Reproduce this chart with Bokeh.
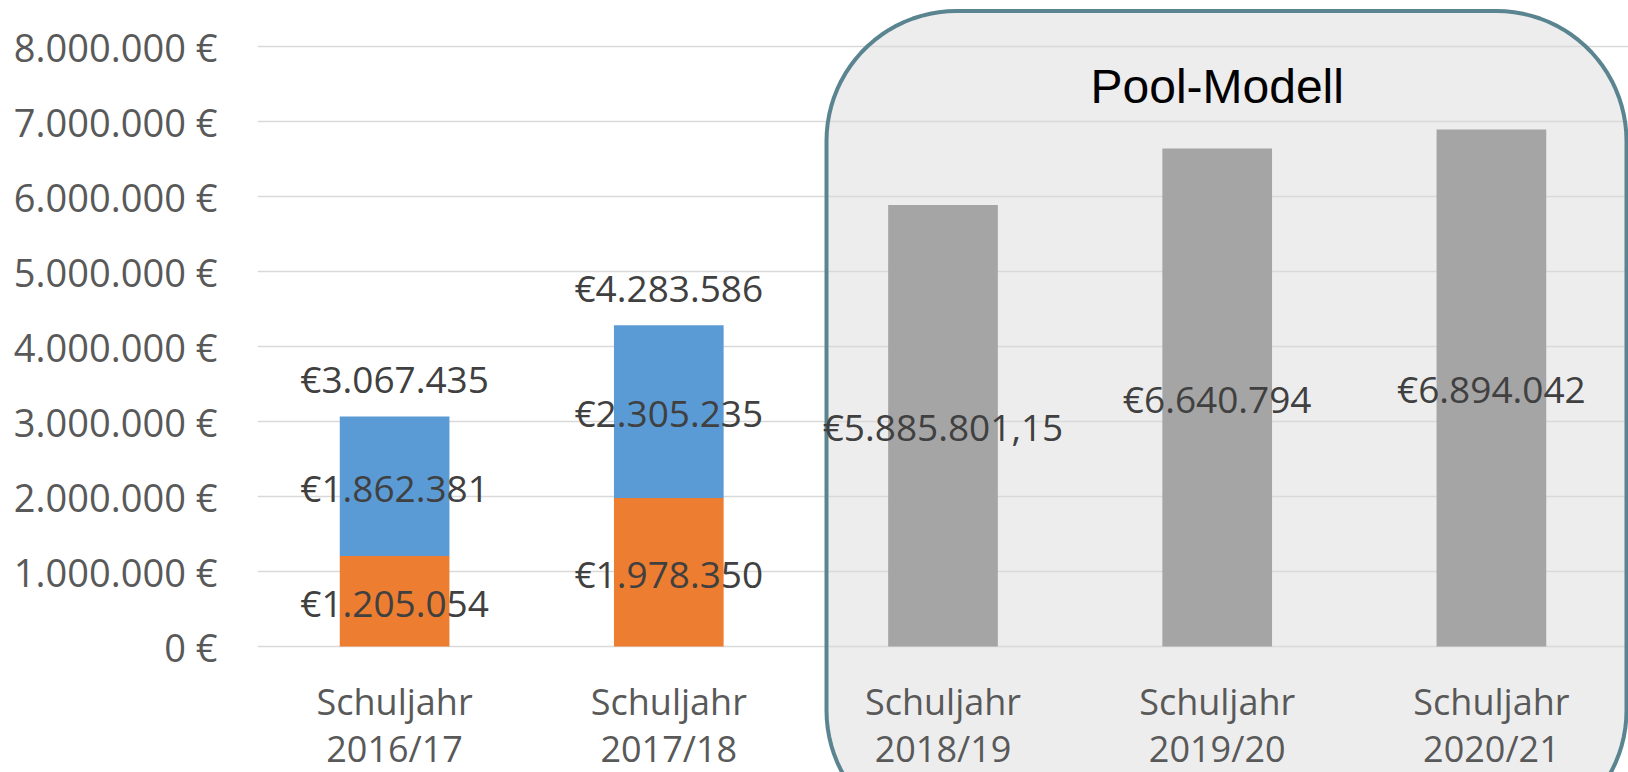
import numpy as np
from bokeh.plotting import figure
from bokeh.models import (ColumnDataSource, FactorRange, Range1d, FixedTicker,
                          LabelSet)
from bokeh.core.properties import value
from bokeh.embed import file_html
from bokeh.resources import INLINE

# ---------------- data ----------------
categories = ["Schuljahr 2016/17", "Schuljahr 2017/18", "Schuljahr 2018/19",
              "Schuljahr 2019/20", "Schuljahr 2020/21"]
stacked_categories = categories[:2]
pool_categories = categories[2:]

orange_values = [1205054, 1978350]
blue_values = [1862381, 2305235]
total_values = [3067435, 4283586]
pool_values = [5885801.15, 6640794, 6894042]

y_ticks = [0, 1000000, 2000000, 3000000, 4000000, 5000000, 6000000, 7000000, 8000000]
box_title = "Pool-Modell"


def de_number(v):
    if float(v) != int(v):
        s = f"{v:,.2f}"
    else:
        s = f"{int(v):,}"
    return s.replace(",", "#").replace(".", ",").replace("#", ".")


def euro_label(v):
    return "€" + de_number(v)


# ---------------- layout constants (pixels) ----------------
W, H = 1628, 772
FRAME_LEFT = 257
ZERO_Y = 646            # screen y of value 0
PX_PER_MIO = 75         # pixels per 1.000.000 €
CAT_W = (W - FRAME_LEFT) / len(categories)

y_start = -(H - ZERO_Y) / PX_PER_MIO * 1e6
y_end = ZERO_Y / PX_PER_MIO * 1e6

p = figure(x_range=FactorRange(*categories, range_padding=0, factor_padding=0),
           y_range=Range1d(y_start, y_end),
           width=W, height=H,
           min_border_left=FRAME_LEFT, min_border_right=0,
           min_border_top=0, min_border_bottom=0,
           x_axis_location=None,
           output_backend="svg", toolbar_location=None)
p.outline_line_color = None
p.background_fill_color = "white"
p.border_fill_color = "white"

p.xgrid.visible = False
p.ygrid.ticker = FixedTicker(ticks=y_ticks)
p.ygrid.grid_line_color = "#D9D9D9"
p.ygrid.grid_line_width = 1.5

yax = p.yaxis[0]
yax.ticker = FixedTicker(ticks=y_ticks)
yax.major_label_overrides = {t: de_number(t) + " €" for t in y_ticks}
yax.axis_line_color = None
yax.major_tick_line_color = None
yax.minor_tick_line_color = None
yax.major_tick_in = 0
yax.major_tick_out = 0
yax.major_label_standoff = 40
yax.major_label_text_font = "Open Sans"
yax.major_label_text_font_size = "38px"
yax.major_label_text_color = "#595959"


# ---------------- rounded "Pool-Modell" box ----------------
def sx_to_data(px):
    return (px - FRAME_LEFT) / CAT_W


def sy_to_data(py):
    return (ZERO_Y - py) / PX_PER_MIO * 1e6


def rounded_rect(left, right, top, bottom, r, n=24):
    pts = []
    corners = [((right - r, top + r), -90, 0),      # top-right
               ((right - r, bottom - r), 0, 90),    # bottom-right
               ((left + r, bottom - r), 90, 180),   # bottom-left
               ((left + r, top + r), 180, 270)]     # top-left
    for (cx, cy), a0, a1 in corners:
        for a in np.linspace(np.radians(a0), np.radians(a1), n):
            pts.append((cx + r * np.cos(a), cy + r * np.sin(a)))
    xs = [sx_to_data(x) for x, _ in pts]
    ys = [sy_to_data(y) for _, y in pts]
    return xs, ys


bx, by = rounded_rect(826, 1626, 10.5, 840, 130)
p.patch(bx, by, fill_color="#EDEDED", line_color=None, level="image")
p.patch(bx, by, fill_alpha=0, line_color="#5A8590", line_width=4, level="glyph")

# ---------------- bars ----------------
stack_src = ColumnDataSource(dict(
    x=stacked_categories,
    orange=orange_values,
    blue_top=[o + b for o, b in zip(orange_values, blue_values)],
))
p.vbar(x="x", bottom=0, top="orange", width=0.4, source=stack_src,
       fill_color="#ED7D31", line_color=None)
p.vbar(x="x", bottom="orange", top="blue_top", width=0.4, source=stack_src,
       fill_color="#5B9BD5", line_color=None)

pool_src = ColumnDataSource(dict(x=pool_categories, top=pool_values))
p.vbar(x="x", bottom=0, top="top", width=0.4, source=pool_src,
       fill_color="#A5A5A5", line_color=None)

# ---------------- data labels ----------------
center_src = ColumnDataSource(dict(
    x=stacked_categories + stacked_categories + pool_categories,
    y=[o / 2 for o in orange_values]
      + [o + b / 2 for o, b in zip(orange_values, blue_values)]
      + [v / 2 for v in pool_values],
    text=[euro_label(v) for v in orange_values]
         + [euro_label(v) for v in blue_values]
         + [euro_label(v) for v in pool_values],
))
p.add_layout(LabelSet(x="x", y="y", text="text", source=center_src,
                      y_offset=-15.5, text_align="center",
                      text_baseline="alphabetic",
                      text_font=value("Open Sans"), text_font_size=value("37px"),
                      text_color="#404040"))

total_src = ColumnDataSource(dict(
    x=stacked_categories, y=total_values,
    text=[euro_label(v) for v in total_values]))
p.add_layout(LabelSet(x="x", y="y", text="text", source=total_src,
                      y_offset=23, text_align="center",
                      text_baseline="alphabetic",
                      text_font=value("Open Sans"), text_font_size=value("37px"),
                      text_color="#404040"))

# ---------------- category labels ----------------
cat_src = ColumnDataSource(dict(
    x=categories, y=[0] * len(categories),
    line1=[c.split(" ")[0] for c in categories],
    line2=[c.split(" ")[1] for c in categories]))
for field, off in (("line1", -68), ("line2", -115)):
    p.add_layout(LabelSet(x="x", y="y", text=field, source=cat_src,
                          y_offset=off, text_align="center",
                          text_baseline="alphabetic",
                          text_font=value("Open Sans"), text_font_size=value("36px"),
                          text_color="#595959"))

# ---------------- box title ----------------
title_src = ColumnDataSource(dict(x=[categories[3]], y=[sy_to_data(102)],
                                  text=[box_title]))
p.add_layout(LabelSet(x="x", y="y", text="text", source=title_src,
                      text_align="center", text_baseline="alphabetic",
                      text_font=value("Liberation Sans"),
                      text_font_size=value("48px"), text_color="black"))

open("out.html", "w").write(file_html(p, INLINE))
